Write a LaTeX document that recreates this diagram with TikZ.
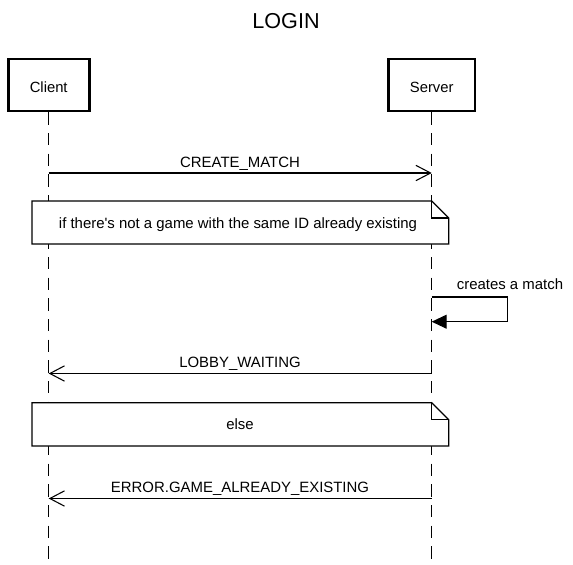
\documentclass[tikz,border=0pt]{standalone}
\usepackage{fontspec}
\setmainfont{Liberation Sans}
\usetikzlibrary{arrows.meta}
\begin{document}
\begin{tikzpicture}[x=0.75pt,y=-0.75pt,
  actorbox/.style={draw=black,line width=2pt,fill=white,inner sep=0pt},
  actortext/.style={anchor=base,inner sep=0pt,font=\fontsize{11.1pt}{13pt}\selectfont},
  lifeline/.style={line width=1.1pt,dash pattern=on 9.3pt off 6.2pt},
  msg/.style={line width=0.8pt,-{Straight Barb[length=11pt,width=11.5pt,line width=0.8pt]}},
  selfmsg/.style={line width=0.8pt,-{Triangle[length=11.25pt,width=10.5pt]}},
  lbl/.style={anchor=base,inner sep=0pt,font=\fontsize{11.2pt}{13pt}\selectfont},
  notebox/.style={draw=black,line width=0.9pt,fill=white}]
\useasboundingbox (0,0) rectangle (573,564);
% title
\node[anchor=base,inner sep=0pt,font=\fontsize{16.2pt}{19pt}\selectfont] (title) at (286,28) {LOGIN};
% actors
\node[actorbox,minimum width=81*0.75pt,minimum height=52*0.75pt] (client) at (48.7,85) {};
\node[actorbox,minimum width=86.5*0.75pt,minimum height=52*0.75pt] (server) at (431.7,85) {};
\node[actortext] (clientlbl) at (48.7,92.2) {Client};
\node[actortext] (serverlbl) at (431.7,92.2) {Server};
\coordinate (clientend) at (48.7,562);
\coordinate (serverend) at (431.7,562);
\draw[lifeline] (client.south) -- (clientend);
\draw[lifeline] (server.south) -- (serverend);
% message points
\coordinate (c1) at (48.7,173);
\coordinate (s1) at (431.7,173);
\coordinate (s2) at (431.7,297);
\coordinate (s2a) at (507.3,297);
\coordinate (s2b) at (507.3,321.7);
\coordinate (s3) at (431.7,321.7);
\coordinate (c4) at (48.7,373.5);
\coordinate (s4) at (431.7,373.5);
\coordinate (c5) at (48.7,498.5);
\coordinate (s5) at (431.7,498.5);
% CREATE_MATCH
\draw[msg] (c1) -- (s1);
\node[lbl] (m1) at (240,167.3) {CREATE\_MATCH};
% note 1
\draw[notebox] (32,201) -- (431.7,201) -- (448.7,218) -- (448.7,244) -- (32,244) -- cycle;
\draw[line width=0.9pt] (431.7,201) -- (431.7,218) -- (448.7,218);
\node[lbl] (n1) at (238,228.5) {if there\textquotesingle s not a game with the same ID already existing};
% self message
\draw[selfmsg] (s2) -- (s2a) -- (s2b) -- (s3);
\node[lbl] (m2) at (510,289.3) {creates a match};
% LOBBY_WAITING
\draw[msg] (s4) -- (c4);
\node[lbl] (m3) at (240,367.8) {LOBBY\_WAITING};
% note 2
\draw[notebox] (32,402.7) -- (431.7,402.7) -- (448.7,419.7) -- (448.7,446) -- (32,446) -- cycle;
\draw[line width=0.9pt] (431.7,402.7) -- (431.7,419.7) -- (448.7,419.7);
\node[lbl] (n2) at (240,429.5) {else};
% ERROR
\draw[msg] (s5) -- (c5);
\node[lbl] (m4) at (240,492.8) {ERROR.GAME\_ALREADY\_EXISTING};
\end{tikzpicture}
\end{document}
